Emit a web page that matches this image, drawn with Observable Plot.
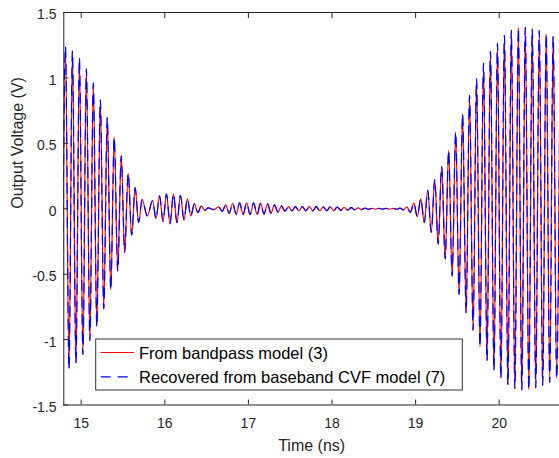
<!DOCTYPE html>
<html><head><meta charset="utf-8">
<script src="https://cdn.jsdelivr.net/npm/d3@7"></script>
<script src="https://cdn.jsdelivr.net/npm/@observablehq/plot@0.6"></script>
<style>
html,body{margin:0;padding:0;background:#fff;}
#wrap{position:relative;width:559px;height:458px;overflow:hidden;font-family:"Liberation Sans",Arial,Helvetica,sans-serif;}
#legend{position:absolute;left:0;top:0;pointer-events:none;}
</style></head><body><div id="wrap"></div>
<script>
// Extremum times (ns) of the output voltage
const timeNs = [
  14.770, 14.812, 14.854, 14.895, 14.937, 14.979, 15.020, 15.062, 15.104, 15.145, 15.187, 15.229,
  15.270, 15.312, 15.354, 15.395, 15.437, 15.479, 15.520, 15.562, 15.604, 15.645, 15.687, 15.729, 15.791,
  15.854, 15.895, 15.937, 15.979, 16.020, 16.062, 16.104, 16.145, 16.187, 16.229, 16.270, 16.312,
  16.354, 16.395, 16.437, 16.479, 16.520, 16.583,
  16.645, 16.687, 16.729, 16.770, 16.812, 16.854, 16.895, 16.937, 16.979, 17.020, 17.062, 17.104,
  17.145, 17.187, 17.229, 17.270, 17.312, 17.354, 17.395, 17.437, 17.479, 17.520, 17.562, 17.604,
  17.645, 17.687, 17.729, 17.770,
  17.812, 17.854, 17.895, 17.937, 17.979, 18.020, 18.062, 18.104, 18.145, 18.187, 18.229, 18.270,
  18.312, 18.354, 18.395, 18.437, 18.479, 18.520, 18.562, 18.604, 18.645, 18.687, 18.729, 18.770,
  18.812, 18.854, 18.895, 18.937, 18.979, 19.020, 19.062, 19.104, 19.145, 19.187, 19.229, 19.270,
  19.312, 19.354, 19.395, 19.437, 19.479, 19.520, 19.562, 19.604, 19.645, 19.687, 19.729, 19.770,
  19.812, 19.854, 19.895, 19.937, 19.979, 20.020, 20.062, 20.104, 20.145, 20.187, 20.229, 20.270,
  20.312, 20.354, 20.395, 20.437, 20.479, 20.520, 20.562, 20.604, 20.645, 20.687, 20.729
];
// Output voltage (V) at those extrema, bandpass model (3)
const bandpassV = [
  -1.220, 1.241, -1.223, 1.205, -1.180, 1.154, -1.114, 1.070, -1.008, 0.963, -0.901, 0.833,
  -0.765, 0.696, -0.621, 0.547, -0.474, 0.405, -0.334, 0.272, -0.202, 0.161, -0.105, 0.069, -0.055,
  0.063, -0.076, 0.099, -0.097, 0.114, -0.115, 0.114, -0.107, 0.102, -0.085, 0.075, -0.055,
  0.040, -0.030, 0.022, -0.012, 0.006, -0.006,
  0.015, -0.020, 0.030, -0.035, 0.040, -0.042, 0.045, -0.045, 0.046, -0.045, 0.045, -0.044,
  0.043, -0.041, 0.038, -0.034, 0.030, -0.026, 0.022, -0.019, 0.017, -0.016, 0.016, -0.016,
  0.016, -0.016, 0.016, -0.016,
  0.016, -0.015, 0.015, -0.015, 0.014, -0.014, 0.013, -0.012, 0.011, -0.010, 0.009, -0.008,
  0.007, -0.006, 0.005, -0.004, 0.003, -0.003, 0.003, -0.003, 0.003, -0.003, 0.003, -0.004,
  0.005, -0.008, 0.014, -0.028, 0.043, -0.060, 0.076, -0.105, 0.140, -0.180, 0.222, -0.270,
  0.323, -0.385, 0.446, -0.515, 0.586, -0.655, 0.726, -0.795, 0.866, -0.930, 0.994, -1.055,
  1.113, -1.160, 1.203, -1.235, 1.266, -1.297, 1.325, -1.345, 1.363, -1.375, 1.384, -1.386,
  1.388, -1.383, 1.376, -1.370, 1.363, -1.350, 1.338, -1.327, 1.317, -1.300, 1.280
];
// Recovered from baseband CVF model (7): coincides with the bandpass curve
const recoveredV = bandpassV.slice();

const seriesNames = ["From bandpass model (3)", "Recovered from baseband CVF model (7)"];
const seriesColors = ["#ff0000", "#0000ff"];
const xTicks = [15, 16, 17, 18, 19, 20];
const xTickLabels = ["15", "16", "17", "18", "19", "20"];
const yTicks = [-1.5, -1, -0.5, 0, 0.5, 1, 1.5];
const yTickLabels = ["-1.5", "-1", "-0.5", "0", "0.5", "1", "1.5"];
const xDomain = [14.792, 20.721];
const yDomain = [-1.5, 1.5];
const xLabel = "Time (ns)";
const yLabel = "Output Voltage (V)";

const bandpass = timeNs.map((t, i) => ({t, v: bandpassV[i]}));
const recovered = timeNs.map((t, i) => ({t, v: recoveredV[i]}));
const ink = "#262626";
const font = '"Liberation Sans", Arial, Helvetica, sans-serif';

const chart = Plot.plot({
  width: 559, height: 458,
  marginLeft: 63.3, marginRight: 0, marginTop: 12, marginBottom: 53.5,
  x: {domain: xDomain},
  y: {domain: yDomain},
  style: {fontFamily: font, color: ink, background: "white"},
  marks: [
    Plot.line(bandpass, {x: "t", y: "v", stroke: seriesColors[0], strokeWidth: 1.2, curve: "monotone-x", clip: true}),
    Plot.line(recovered, {x: "t", y: "v", stroke: seriesColors[1], strokeWidth: 1.2, strokeDasharray: "10,7", curve: "monotone-x", clip: true}),
    Plot.frame({anchor: "left", stroke: ink}),
    Plot.frame({anchor: "top", stroke: ink}),
    Plot.frame({anchor: "bottom", stroke: ink}),
    Plot.axisX({anchor: "bottom", ticks: xTicks, tickSize: -5, fill: "none", label: null, stroke: ink}),
    Plot.axisX({anchor: "top", ticks: xTicks, tickSize: -5, fill: "none", label: null, stroke: ink}),
    Plot.axisX({anchor: "bottom", ticks: xTicks, tickSize: 0, tickPadding: 12.8, fontSize: 14, fill: ink, label: null,
      tickFormat: d => xTickLabels[xTicks.indexOf(d)]}),
    Plot.axisY({anchor: "left", ticks: yTicks, tickSize: -5, fill: "none", label: null, stroke: ink}),
    Plot.axisY({anchor: "left", ticks: yTicks, tickSize: 0, tickPadding: 7.3, dy: 2.5, fontSize: 14, fill: ink, label: null,
      tickFormat: d => yTickLabels[yTicks.indexOf(d)]}),
    Plot.text([xLabel], {frameAnchor: "bottom", dy: 40.5, lineAnchor: "middle", fontSize: 16, fill: ink}),
    Plot.text([yLabel], {frameAnchor: "left", dx: -46, rotate: -90, lineAnchor: "middle", fontSize: 16, fill: ink})
  ]
});
const wrap = document.getElementById("wrap");
wrap.appendChild(chart);

// Legend (inside the axes, lower middle)
const lg = d3.select(wrap).append("svg").attr("id", "legend").attr("width", 559).attr("height", 458);
lg.append("rect").attr("x", 95.7).attr("y", 339).attr("width", 366.6).attr("height", 51)
  .attr("fill", "white").attr("stroke", "#333").attr("stroke-width", 1);
const rowsY = [353.3, 377.7];
seriesNames.forEach((name, i) => {
  lg.append("line").attr("x1", 100.7).attr("x2", 134).attr("y1", rowsY[i] - 0.8).attr("y2", rowsY[i] - 0.8)
    .attr("stroke", seriesColors[i]).attr("stroke-width", 1.2)
    .attr("stroke-dasharray", i === 1 ? "10,7" : null);
  lg.append("text").attr("x", 139).attr("y", rowsY[i]).attr("dy", "0.35em")
    .attr("font-family", font).attr("font-size", 16.5).attr("fill", "#000").text(name);
});
</script></body></html>
